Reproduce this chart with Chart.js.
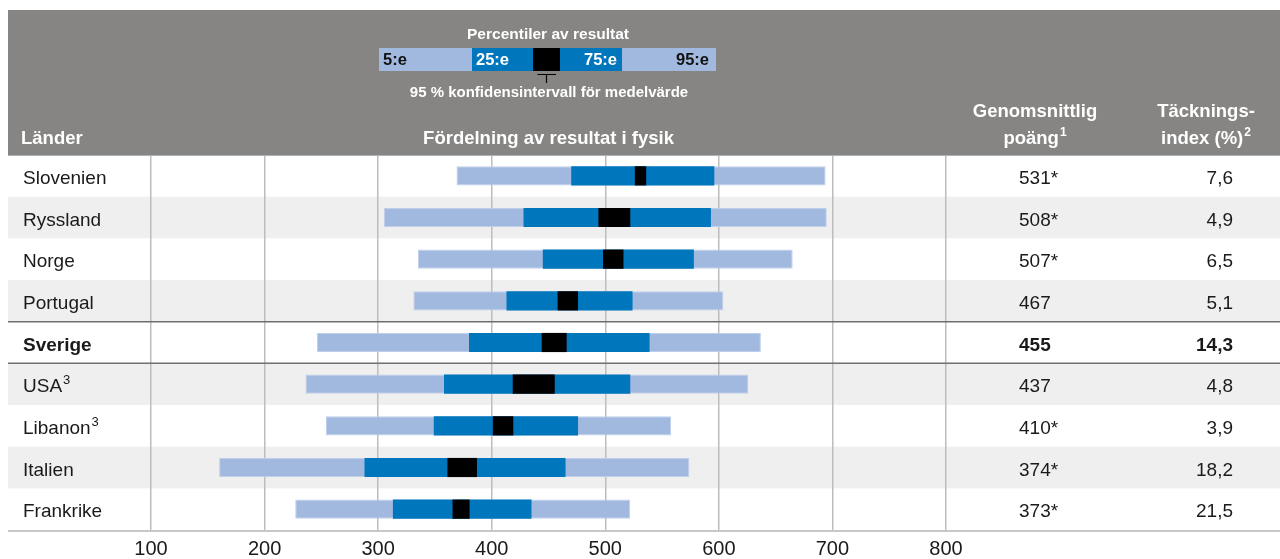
<!DOCTYPE html>
<html>
<head>
<meta charset="utf-8">
<script src="https://cdn.jsdelivr.net/npm/chart.js@4/dist/chart.umd.min.js"></script>
<style>
  html, body { margin: 0; padding: 0; background: #fff; }
  #wrap { width: 1280px; height: 559px; position: relative; }
</style>
</head>
<body>
<div id="wrap"><canvas id="c" width="1280" height="559"></canvas></div>
<script>
// Länder och resultatfördelning i fysik
const countries   = ['Slovenien', 'Ryssland', 'Norge', 'Portugal', 'Sverige', 'USA', 'Libanon', 'Italien', 'Frankrike'];
const countryNote = ['', '', '', '', '', '3', '3', '', ''];
const p5          = [369, 305, 335, 331, 246, 236, 254, 160, 227];
const p25         = [470, 428, 445, 413, 380, 358, 349, 288, 313];
const p75         = [596, 593, 578, 524, 539, 522, 476, 465, 435];
const p95         = [694, 695, 665, 604, 637, 626, 558, 574, 522];
const meanScore   = [531, 508, 507, 467, 455, 437, 410, 374, 373];
const ciHalfWidth = [5, 14, 9, 9, 11, 18.5, 9, 13, 7.5];
const significant = [true, true, true, false, false, false, true, true, true];
const coverage    = ['7,6', '4,9', '6,5', '5,1', '14,3', '4,8', '3,9', '18,2', '21,5'];
const xTicks      = [100, 200, 300, 400, 500, 600, 700, 800];
const highlight   = 'Sverige';

const LIGHT = '#a1b8df';
const DARK = '#0076bd';
const HEADER = '#878583';
const STRIPE = '#efefef';
const FONT = '"Liberation Sans", Arial, sans-serif';

function txt(ctx, s, x, y, font, color, align) {
  ctx.font = font;
  ctx.fillStyle = color;
  ctx.textAlign = align || 'left';
  ctx.textBaseline = 'alphabetic';
  ctx.fillText(s, x, y);
}

// text with a trailing superscript, positioned by alignment of the whole
function supText(ctx, s, sup, x, y, font, supFont, color, align) {
  ctx.font = font;
  const w1 = ctx.measureText(s).width;
  ctx.font = supFont;
  const w2 = sup ? ctx.measureText(sup).width + 1 : 0;
  let left = x;
  if (align === 'center') left = x - (w1 + w2) / 2;
  else if (align === 'right') left = x - (w1 + w2);
  txt(ctx, s, left, y, font, color, 'left');
  if (sup) txt(ctx, sup, left + w1 + 1, y - 8, supFont, color, 'left');
}

const tableFrame = {
  id: 'tableFrame',
  beforeDraw(chart) {
    const { ctx, chartArea, scales: { y } } = chart;
    const W = chart.width;
    const rowH = (chartArea.bottom - chartArea.top) / countries.length;
    ctx.save();
    ctx.fillStyle = '#ffffff';
    ctx.fillRect(0, 0, W, chart.height);
    // header band
    ctx.fillStyle = HEADER;
    ctx.fillRect(8, 10, W - 8, chartArea.top - 10);
    // alternating row stripes
    countries.forEach((c, i) => {
      if (i % 2 === 1) {
        const yc = y.getPixelForValue(i);
        ctx.fillStyle = STRIPE;
        ctx.fillRect(8, yc - rowH / 2, W - 8, rowH);
      }
    });
    ctx.restore();
  },
  afterDraw(chart) {
    const { ctx, chartArea, scales: { y } } = chart;
    const W = chart.width;
    const rowH = (chartArea.bottom - chartArea.top) / countries.length;
    const midX = (chartArea.left + chartArea.right) / 2;
    ctx.save();

    // frame lines
    ctx.strokeStyle = '#b0b0b0';
    ctx.lineWidth = 1;
    ctx.beginPath();
    ctx.moveTo(8, chartArea.top + 0.5);
    ctx.lineTo(W, chartArea.top + 0.5);
    ctx.stroke();
    ctx.strokeStyle = '#c8c8c8';
    ctx.lineWidth = 2;
    ctx.beginPath();
    ctx.moveTo(8, chartArea.bottom + 1);
    ctx.lineTo(W, chartArea.bottom + 1);
    ctx.stroke();

    // separators around the highlighted country
    const hi = countries.indexOf(highlight);
    if (hi >= 0) {
      const yc = y.getPixelForValue(hi);
      ctx.strokeStyle = '#6f6f6f';
      ctx.lineWidth = 1.5;
      [yc - rowH / 2, yc + rowH / 2].forEach(yy => {
        ctx.beginPath();
        ctx.moveTo(8, yy);
        ctx.lineTo(W, yy);
        ctx.stroke();
      });
    }

    // row texts
    const regular = '19px ' + FONT;
    const bold = 'bold 19px ' + FONT;
    countries.forEach((c, i) => {
      const base = y.getPixelForValue(i) + 8;
      const isHi = c === highlight;
      supText(ctx, c, countryNote[i], 23, base, isHi ? bold : regular, '13px ' + FONT, '#1a1a1a', 'left');
      txt(ctx, meanScore[i] + (significant[i] ? '*' : ''), 1019, base, isHi ? bold : regular, '#1a1a1a', 'left');
      txt(ctx, coverage[i], 1233, base, isHi ? bold : regular, '#1a1a1a', 'right');
    });

    // header titles
    const hFont = 'bold 18.5px ' + FONT;
    const hSup = 'bold 12px ' + FONT;
    txt(ctx, 'Länder', 21, 144, hFont, '#ffffff', 'left');
    txt(ctx, 'Fördelning av resultat i fysik', midX, 144, hFont, '#ffffff', 'center');
    txt(ctx, 'Genomsnittlig', 1035, 117, hFont, '#ffffff', 'center');
    supText(ctx, 'poäng', '1', 1035, 144, hFont, hSup, '#ffffff', 'center');
    txt(ctx, 'Täcknings-', 1206, 117, hFont, '#ffffff', 'center');
    supText(ctx, 'index (%)', '2', 1206, 144, hFont, hSup, '#ffffff', 'center');

    // legend key in the header
    txt(ctx, 'Percentiler av resultat', 548, 39, 'bold 15.5px ' + FONT, '#ffffff', 'center');
    const kTop = 48, kH = 23;
    const segs = [[379, 472, LIGHT], [472, 533, DARK], [533, 560, '#000000'], [560, 622, DARK], [622, 716, LIGHT]];
    segs.forEach(([a, b, col]) => { ctx.fillStyle = col; ctx.fillRect(a, kTop, b - a, kH); });
    const kFont = 'bold 16.5px ' + FONT;
    txt(ctx, '5:e', 383, 65, kFont, '#111111', 'left');
    txt(ctx, '25:e', 476, 65, kFont, '#ffffff', 'left');
    txt(ctx, '75:e', 617, 65, kFont, '#ffffff', 'right');
    txt(ctx, '95:e', 709, 65, kFont, '#111111', 'right');
    ctx.strokeStyle = '#000000';
    ctx.lineWidth = 1.2;
    ctx.beginPath();
    ctx.moveTo(537.5, 74.5); ctx.lineTo(556, 74.5);
    ctx.moveTo(546.5, 74.5); ctx.lineTo(546.5, 83);
    ctx.stroke();
    txt(ctx, '95 % konfidensintervall för medelvärde', 549, 97, 'bold 15px ' + FONT, '#ffffff', 'center');

    ctx.restore();
  }
};

const rangeData = p5.map((v, i) => [v, p95[i]]);
const iqrData = p25.map((v, i) => [v, p75[i]]);
const ciData = meanScore.map((m, i) => [m - ciHalfWidth[i], m + ciHalfWidth[i]]);

new Chart(document.getElementById('c'), {
  type: 'bar',
  data: {
    labels: countries,
    datasets: [
      { label: 'Konfidensintervall', data: ciData, backgroundColor: '#000000', grouped: false, order: 0,
        barPercentage: 0.46, categoryPercentage: 1 },
      { label: '25:e–75:e percentil', data: iqrData, backgroundColor: DARK, grouped: false, order: 1,
        barPercentage: 0.46, categoryPercentage: 1 },
      { label: '5:e–95:e percentil', data: rangeData, backgroundColor: LIGHT, borderColor: '#bfcfea', borderWidth: 1,
        borderSkipped: false, grouped: false, order: 2, barPercentage: 0.46, categoryPercentage: 1 }
    ]
  },
  options: {
    indexAxis: 'y',
    responsive: false,
    animation: false,
    layout: { padding: { left: 151, right: 334, top: 155, bottom: 0 } },
    plugins: { legend: { display: false }, tooltip: { enabled: false } },
    scales: {
      x: {
        type: 'linear',
        min: xTicks[0],
        max: xTicks[xTicks.length - 1],
        afterBuildTicks: s => { s.ticks = xTicks.map(v => ({ value: v })); },
        afterFit: s => { s.height = 29; },
        grid: { color: '#bdbdbd', lineWidth: 1.5, drawTicks: false },
        border: { display: false },
        ticks: { padding: 7, color: '#1a1a1a', font: { family: FONT, size: 20 } }
      },
      y: {
        type: 'category',
        display: false,
        offset: true
      }
    }
  },
  plugins: [tableFrame]
});
</script>
</body>
</html>
